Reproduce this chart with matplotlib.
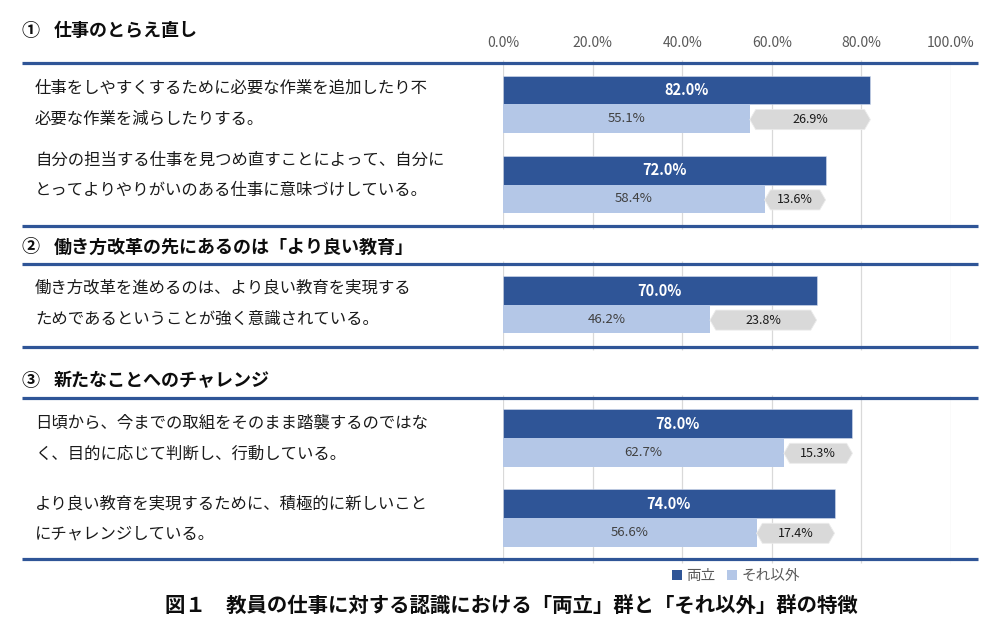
import matplotlib
matplotlib.use("Agg")
import matplotlib.pyplot as plt
from matplotlib.patches import Polygon, Patch

plt.rcParams['font.family'] = ['Noto Sans CJK JP', 'DejaVu Sans']

# ---------------- data ----------------
section_numbers = ["①", "②", "③"]
section_titles = ["仕事のとらえ直し", "働き方改革の先にあるのは「より良い教育」", "新たなことへのチャレンジ"]
item_labels = [
    ["仕事をしやすくするために必要な作業を追加したり不", "必要な作業を減らしたりする。"],
    ["自分の担当する仕事を見つめ直すことによって、自分に", "とってよりやりがいのある仕事に意味づけしている。"],
    ["働き方改革を進めるのは、より良い教育を実現する", "ためであるということが強く意識されている。"],
    ["日頃から、今までの取組をそのまま踏襲するのではな", "く、目的に応じて判断し、行動している。"],
    ["より良い教育を実現するために、積極的に新しいこと", "にチャレンジしている。"],
]
ryoritsu = [82.0, 72.0, 70.0, 78.0, 74.0]      # 両立
sonota = [55.1, 58.4, 46.2, 62.7, 56.6]        # それ以外
gaps = [26.9, 13.6, 23.8, 15.3, 17.4]
x_ticks = [0, 20, 40, 60, 80, 100]
legend_labels = ["両立", "それ以外"]
title = "図１　教員の仕事に対する認識における「両立」群と「それ以外」群の特徴"

# ---------------- layout (pixels) ----------------
W, H = 1004, 635
x0_px, x100_px = 503, 951
dark_centers = [90, 170.3, 290.5, 423.7, 503.7]
bar_h = 28.6
section_lines = [62.7, 225.7, 264, 346.7, 398, 559.3]
grid_spans = [(59.5, 229), (261, 350), (395, 562.5)]
header_y = [31, 247, 381]
label_line_y = [(88, 119), (160, 190), (288, 319), (423, 454), (504, 534)]

DARK = "#2F5597"
LIGHT = "#B4C7E7"
GAPC = "#D9D9D9"

fig = plt.figure(figsize=(W / 100, H / 100), dpi=100)

# data axes (x in percent, y in pixels)
ax = fig.add_axes([x0_px / W, 0, (x100_px - x0_px) / W, 1])
ax.set_xlim(0, 100)
ax.set_ylim(H, 0)
ax.axis("off")
ax.patch.set_alpha(0)

for (ya, yb) in grid_spans:
    ax.vlines(x_ticks, ya, yb, color="#D9D9D9", lw=0.9, zorder=1)
for t in x_ticks:
    ax.text(t, 43, f"{t:.1f}%", ha="center", va="center", fontsize=10, color="#595959")

light_centers = [c + bar_h for c in dark_centers]
b1 = ax.barh(dark_centers, ryoritsu, height=bar_h, color=DARK, edgecolor="#D6DEEE", lw=0.4, zorder=3)
b2 = ax.barh(light_centers, sonota, height=bar_h, color=LIGHT, zorder=3)

d = 1.3
hh = 10
for i in range(len(ryoritsu)):
    r, s = ryoritsu[i], sonota[i]
    yc = light_centers[i] + 1
    poly = Polygon([(s, yc), (s + d, yc - hh), (r - d, yc - hh), (r, yc),
                    (r - d, yc + hh), (s + d, yc + hh)], closed=True,
                   facecolor=GAPC, edgecolor="#EBEBEB", lw=0.6, zorder=3)
    ax.add_patch(poly)
    ax.text(r / 2, dark_centers[i], f"{r:.1f}%", ha="center", va="center",
            fontsize=10.5, fontweight="bold", color="white", zorder=4)
    ax.text(s / 2, light_centers[i], f"{s:.1f}%", ha="center", va="center",
            fontsize=9.5, color="#404040", zorder=4)
    ax.text((s + r) / 2, yc, f"{gaps[i]:.1f}%", ha="center", va="center",
            fontsize=9, color="#1A1A1A", zorder=4)

# layout overlay axes (pixel coords)
ov = fig.add_axes([0, 0, 1, 1], zorder=5)
ov.set_xlim(0, W)
ov.set_ylim(H, 0)
ov.axis("off")
ov.patch.set_alpha(0)

for y in section_lines:
    ov.hlines(y, 22, 978, color=DARK, lw=2.3)

for i in range(3):
    ov.text(22, header_y[i], section_numbers[i], ha="left", va="center",
            fontsize=13, fontweight="bold", color="#0D0D0D")
    ov.text(54, header_y[i], section_titles[i], ha="left", va="center",
            fontsize=13, fontweight="bold", color="#0D0D0D")

for i, lines in enumerate(item_labels):
    for j, line in enumerate(lines):
        ov.text(35, label_line_y[i][j], line, ha="left", va="center",
                fontsize=11.8, color="#1A1A1A")

handles = [Patch(facecolor=DARK), Patch(facecolor=LIGHT)]
fig.legend(handles, legend_labels, loc="center", bbox_to_anchor=(736 / W, 1 - 576 / H),
           ncol=2, frameon=False, fontsize=10.5, labelcolor="#595959",
           handlelength=0.7, handleheight=0.7, handletextpad=0.3, columnspacing=0.8)

ov.text(511, 606, title, ha="center", va="center", fontsize=14.7, fontweight="bold", color="#0D0D0D")

fig.savefig("out.png", dpi=100)
